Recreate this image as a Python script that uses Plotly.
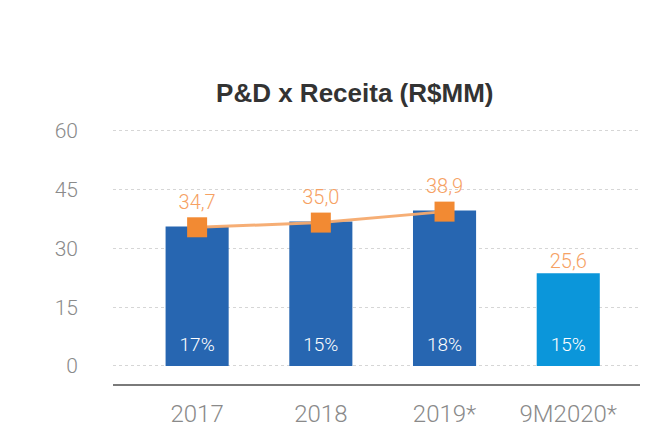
import plotly.graph_objects as go

# data
categories = ["2017", "2018", "2019*", "9M2020*"]
bar_values = [35.6, 36.9, 39.7, 23.7]
line_categories = ["2017", "2018", "2019*"]
line_values = [35.4, 36.6, 39.4]
line_labels = ["34,7", "35,0", "38,9"]
last_label = ["25,6"]
pct_labels = ["17%", "15%", "18%", "15%"]
y_ticks = [0, 15, 30, 45, 60]

DARK_BLUE = "#2766B1"
LIGHT_BLUE = "#0B96DA"
ORANGE = "#F28A33"
ORANGE_TXT = "#F6A163"
GREY_TXT = "#8A8A8A"
FONT = "Roboto"

bar_colors = [DARK_BLUE, DARK_BLUE, DARK_BLUE, LIGHT_BLUE]

fig = go.Figure()

fig.add_trace(go.Bar(
    x=categories,
    y=bar_values,
    width=0.51,
    marker=dict(color=bar_colors, line=dict(width=0)),
    hoverinfo="skip",
))

# percent labels sitting near the bottom of each bar
fig.add_trace(go.Scatter(
    x=categories,
    y=[5.1] * len(categories),
    mode="text",
    text=pct_labels,
    textfont=dict(family=FONT, size=19, color="white", weight=300),
    hoverinfo="skip",
))

fig.add_trace(go.Scatter(
    x=line_categories,
    y=line_values,
    mode="lines+markers+text",
    line=dict(color="rgba(245,170,110,0.95)", width=3),
    marker=dict(symbol="square", size=20, color=ORANGE),
    text=line_labels,
    textposition="top center",
    textfont=dict(family=FONT, size=20, color=ORANGE_TXT, weight=300),
    hoverinfo="skip",
))

fig.add_trace(go.Scatter(
    x=categories[-1:],
    y=bar_values[-1:],
    mode="text",
    text=last_label,
    textposition="top center",
    textfont=dict(family=FONT, size=20, color=ORANGE_TXT, weight=300),
    hoverinfo="skip",
))

# page body has an 8px margin, so the figure is 8px smaller each way
fig.update_layout(
    width=641,
    height=420,
    template="plotly_white",
    showlegend=False,
    paper_bgcolor="white",
    plot_bgcolor="white",
    margin=dict(t=119, b=44, l=105, r=9),
    title=dict(
        text="<b>P&D x Receita (R$MM)</b>",
        x=0.541, xanchor="center",
        y=0.798, yanchor="middle",
        font=dict(family="Liberation Sans", size=26, color="#333333"),
    ),
    font=dict(family=FONT, color=GREY_TXT),
)

fig.update_xaxes(
    type="category",
    range=[-0.68, 3.58],
    automargin=False,
    showgrid=False,
    showline=True,
    linecolor="#7a7a7a",
    linewidth=2,
    ticks="",
    ticklabelstandoff=7,
    tickfont=dict(family=FONT, size=24, color=GREY_TXT, weight=300),
)

fig.update_yaxes(
    range=[-4.6, 61],
    tickvals=y_ticks,
    automargin=False,
    showgrid=True,
    gridcolor="#d6d6d6",
    gridwidth=1,
    griddash="dot",
    zeroline=False,
    showline=False,
    ticks="",
    ticklabelstandoff=34,
    tickfont=dict(family=FONT, size=21, color=GREY_TXT, weight=300),
)

fig.write_html("out.html")
